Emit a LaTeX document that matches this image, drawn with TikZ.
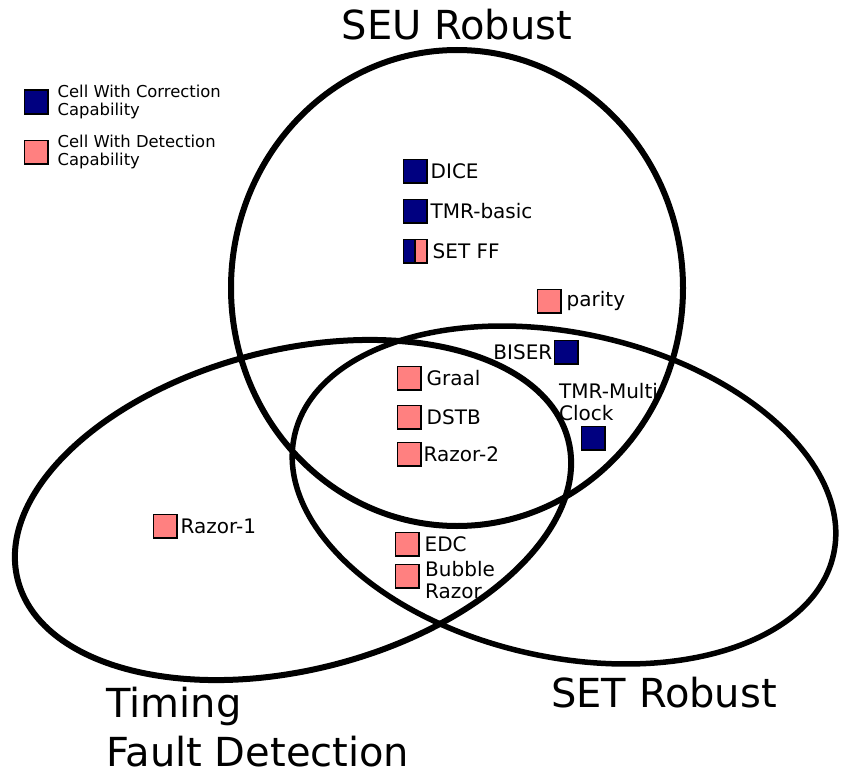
\documentclass[tikz,border=0pt]{standalone}
\usepackage{fontspec}
\setmainfont{DejaVu Sans}
\usepackage{tikz}
\usetikzlibrary{positioning}
\definecolor{cellnavy}{RGB}{0,0,128}
\definecolor{cellpink}{RGB}{255,128,128}

\begin{document}
\begin{tikzpicture}[
    x=1pt, y=-1pt,
    node distance=3pt,
    setline/.style={line width=6pt},
    cell/.style={draw, line width=1.5pt, minimum size=23.5pt, inner sep=0pt},
    corr/.style={cell, fill=cellnavy},
    det/.style={cell, fill=cellpink},
    both/.style={cell, fill=cellpink,
                 path picture={\fill[cellnavy] (path picture bounding box.south west)
                               rectangle (path picture bounding box.north);
                               \draw[line width=1.5pt] (path picture bounding box.south)
                               -- (path picture bounding box.north);}},
    lbl/.style={inner sep=0pt, align=left, font=\fontsize{20}{22.5}\selectfont},
    leg/.style={inner sep=0pt, align=left, font=\fontsize{16.4}{18.3}\selectfont},
    big/.style={inner sep=0pt, align=left, font=\fontsize{40}{49}\selectfont},
]
\useasboundingbox (0,0) rectangle (841,776);

% the three sets
\draw[setline] (457,288) ellipse [x radius=226pt, y radius=238pt];
\draw[setline, rotate around={14.2:(293,510)}] (293,510) ellipse [x radius=284pt, y radius=160pt];
\draw[setline, line width=5.5pt, rotate around={-12.4:(564,495)}] (564,495) ellipse [x radius=276pt, y radius=162pt];

% set titles
\node[big, anchor=base] (seu) at (457,39.5) {SEU Robust};
\node[big, anchor=base] (set) at (664,707) {SET Robust};
\node[big, anchor=west] (tfd) at (106,727) {Timing\\Fault Detection};

% legend
\node[corr] (legcorr) at (36,102) {};
\node[leg, right=9pt of legcorr] (legcorrtxt) {Cell With Correction\\Capability};
\node[det] (legdet) at (36,152) {};
\node[leg, right=9pt of legdet] (legdettxt) {Cell With Detection\\Capability};

% SEU only
\node[corr] (dice) at (415,171) {};
\node[lbl, right=3pt of dice] (dicetxt) {DICE};
\node[corr] (tmrb) at (415,211) {};
\node[lbl, right=3pt of tmrb] (tmrbtxt) {TMR-basic};
\node[both] (setff) at (415,251) {};
\node[lbl, right=5pt of setff] (setfftxt) {SET FF};
\node[det] (parity) at (549,301) {};
\node[lbl, right=5pt of parity] (paritytxt) {parity};

% SEU and SET
\node[corr] (biser) at (566,352) {};
\node[lbl, left=1pt of biser] (bisertxt) {BISER};
\node[corr] (tmrm) at (593,438) {};
\node[lbl, anchor=south west] (tmrmtxt) at (559,421) {TMR-Multi\\Clock};

% all three
\node[det] (graal) at (409,378) {};
\node[lbl, right=5pt of graal] (graaltxt) {Graal};
\node[det] (dstb) at (409,417) {};
\node[lbl, right=5pt of dstb] (dstbtxt) {DSTB};
\node[det] (razor2) at (409,454) {};
\node[lbl, right=2pt of razor2] (razor2txt) {Razor-2};

% timing only
\node[det] (razor1) at (165,526) {};
\node[lbl, right=3pt of razor1] (razor1txt) {Razor-1};

% timing and SET
\node[det] (edc) at (407,544) {};
\node[lbl, right=5pt of edc] (edctxt) {EDC};
\node[det] (bubble) at (407,576) {};
\node[lbl, anchor=west] (bubbletxt) at (425,580) {Bubble\\Razor};

\end{tikzpicture}
\end{document}
